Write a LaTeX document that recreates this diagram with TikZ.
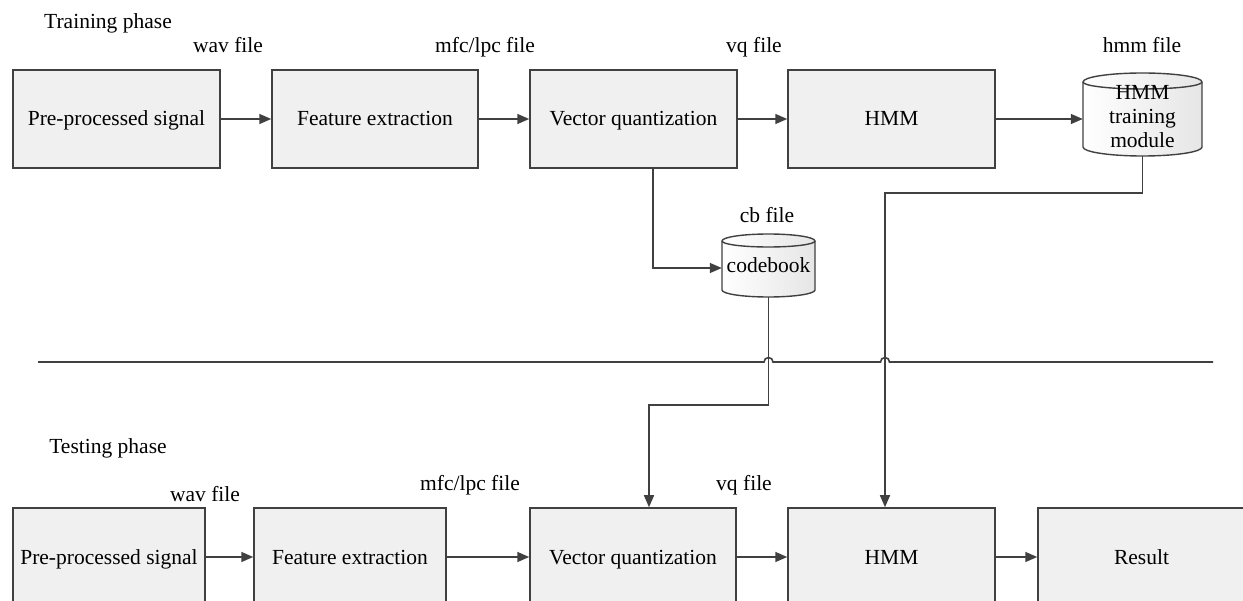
\documentclass[tikz,border=0pt]{standalone}
\usepackage{fontspec}
\setmainfont{Liberation Serif}
\usetikzlibrary{arrows.meta}
\definecolor{boxfill}{HTML}{F0F0F0}
\definecolor{ink}{HTML}{404040}
\tikzset{
  stage/.style={draw=ink, line width=1.5pt, fill=boxfill, minimum height=98, inner sep=0pt,
    text height=18pt, text depth=4pt, font=\fontsize{21.5}{25}\selectfont},
  lbl/.style={inner sep=0pt, anchor=base, font=\fontsize{21.5}{25}\selectfont},
  drumtext/.style={inner sep=0pt, anchor=base, align=center, font=\fontsize{21.5}{24}\selectfont},
  drumframe/.style={inner sep=0pt},
  drum/.style={draw=ink, line width=1.4pt, left color=white, right color=black!10},
  link/.style={draw=ink, line width=1.6pt},
  arr/.style={link, -{Triangle[length=12pt, width=10pt]}},
}
\begin{document}
\begin{tikzpicture}[x=1pt, y=-1pt]
\useasboundingbox (0,0) rectangle (1243,601);
\clip (0,0) rectangle (1243,601);

% ---------- training phase ----------
\node[lbl] (trainlbl) at (108,29) {Training phase};
\node[stage, minimum width=207] (t1) at (116.5,119) {Pre-processed signal};
\node[stage, minimum width=206] (t2) at (375,119) {Feature extraction};
\node[stage, minimum width=207] (t3) at (633.5,119) {Vector quantization};
\node[stage, minimum width=207] (t4) at (891.5,119) {HMM};

% drum: HMM training module
\path[drum] (1083,82) arc[start angle=180, end angle=360, x radius=59.5, y radius=9]
  -- (1202,147) arc[start angle=0, end angle=180, x radius=59.5, y radius=9] -- cycle;
\draw[ink, line width=1.4pt] (1083,82) arc[start angle=180, end angle=0, x radius=59.5, y radius=7];
\node[drumframe, minimum width=119, minimum height=83] (thmm) at (1142.5,114.5) {};
% multi-line text: the base anchor sits on the last line
\node[drumtext] (thmmtxt) at (1142.5,148) {HMM\\training\\module};

% drum: codebook
\path[drum] (722,241) arc[start angle=180, end angle=360, x radius=46.5, y radius=7]
  -- (815,290) arc[start angle=0, end angle=180, x radius=46.5, y radius=7] -- cycle;
\draw[ink, line width=1.4pt] (722,241) arc[start angle=180, end angle=0, x radius=46.5, y radius=6];
\node[drumframe, minimum width=93, minimum height=63] (cb) at (768.5,265.5) {};
\node[drumtext] (cbtxt) at (768.5,273) {codebook};

\node[lbl] (l1) at (228,53) {wav file};
\node[lbl] (l2) at (485,53) {mfc/lpc file};
\node[lbl] (l3) at (754,53) {vq file};
\node[lbl] (l4) at (1142,53) {hmm file};
\node[lbl] (l5) at (767,223) {cb file};

\draw[arr] (t1) -- (t2);
\draw[arr] (t2) -- (t3);
\draw[arr] (t3) -- (t4);
\draw[arr] (t4.east) -- (t4.east -| thmm.west);
\draw[arr] ([xshift=19.5pt]t3.south) |- (cb.west |- 0,268);

% ---------- separator with hops ----------
\coordinate (sepL) at (38,362);
\coordinate (sepR) at (1213,362);
\draw[link] (sepL) -- (764,362)
  arc[start angle=180, end angle=360, radius=4.5] -- (880.5,362)
  arc[start angle=180, end angle=360, radius=4.5] -- (sepR);

% ---------- testing phase ----------
\node[lbl] (testlbl) at (108,454) {Testing phase};
\node[stage, minimum width=192] (b1) at (109,557) {Pre-processed signal};
\node[stage, minimum width=192] (b2) at (350,557) {Feature extraction};
\node[stage, minimum width=206] (b3) at (633,557) {Vector quantization};
\node[stage, minimum width=207] (b4) at (891.5,557) {HMM};
\node[stage, minimum width=207] (b5) at (1141.5,557) {Result};

\node[lbl] (m1) at (205,502) {wav file};
\node[lbl] (m2) at (470,490) {mfc/lpc file};
\node[lbl] (m3) at (744,490) {vq file};

\draw[arr] (b1) -- (b2);
\draw[arr] (b2) -- (b3);
\draw[arr] (b3) -- (b4);
\draw[arr] (b4) -- (b5);

% cross links from the stores into the testing chain
\coordinate (ck) at (649,405);
\draw[arr] (cb.south) |- (ck) -- (b3.north -| ck);
\coordinate (hk) at (885,193);
\draw[arr] (thmm.south) |- (hk) -- (b4.north -| hk);
\end{tikzpicture}
\end{document}
